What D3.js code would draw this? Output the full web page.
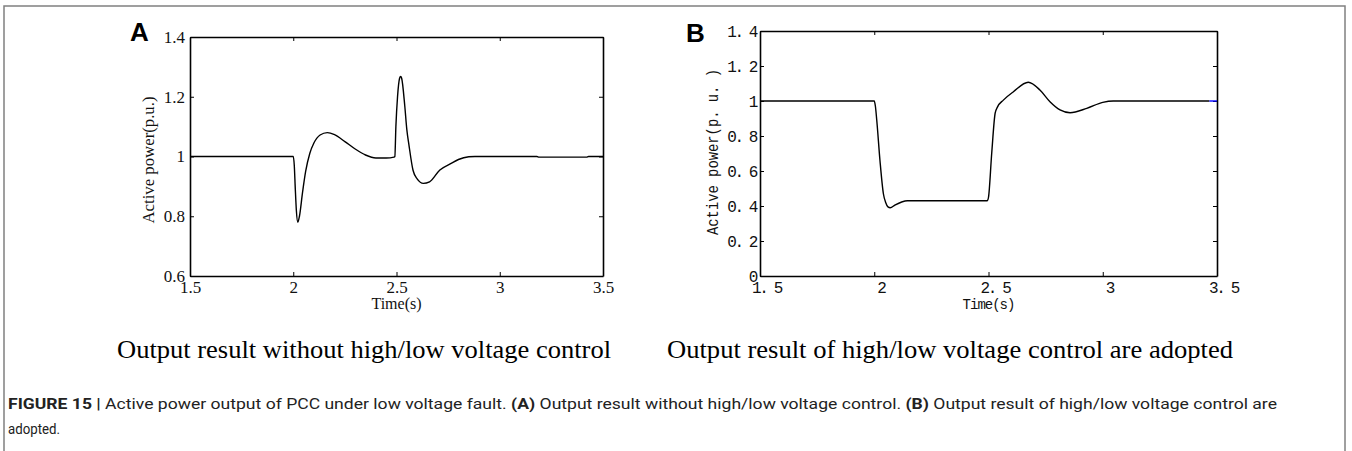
<!DOCTYPE html>
<html>
<head>
	<meta charset="utf-8">
	<title>Figure 15 - Active power output of PCC</title>
	<script src="https://d3js.org/d3.v7.min.js"></script>
	<style>
		body { margin: 0; background: #fff; }
	</style>
</head>
<body>
	<div class="chart"></div>

	<script type="text/javascript">

		// panel A: without high/low voltage control
		const timeA = [1.5, 1.99, 2.0, 2.005, 2.01, 2.015, 2.022, 2.03, 2.045, 2.06, 2.08, 2.10, 2.13, 2.165, 2.20, 2.25, 2.30, 2.35, 2.40, 2.45, 2.488, 2.492, 2.497, 2.505, 2.515, 2.52, 2.525, 2.54, 2.55, 2.56, 2.58, 2.60, 2.63, 2.66, 2.71, 2.76, 2.80, 2.85, 2.88, 3.18, 3.19, 3.42, 3.43, 3.5]
		const powerA = [1.0, 1.0, 1.0, 0.97, 0.89, 0.82, 0.78, 0.80, 0.88, 0.95, 1.01, 1.045, 1.072, 1.08, 1.073, 1.05, 1.025, 1.005, 0.995, 0.995, 0.998, 1.0, 1.10, 1.20, 1.262, 1.268, 1.262, 1.17, 1.09, 1.04, 0.954, 0.925, 0.91, 0.915, 0.955, 0.975, 0.99, 0.999, 1.0, 1.0, 0.998, 0.998, 1.0, 1.0]

		// panel B: with high/low voltage control
		const timeB = [1.5, 1.995, 2.0, 2.005, 2.011, 2.025, 2.04, 2.05, 2.06, 2.07, 2.09, 2.12, 2.145, 2.495, 2.50, 2.514, 2.529, 2.539, 2.565, 2.609, 2.674, 2.725, 2.769, 2.813, 2.857, 2.93, 3.0, 3.046, 3.466]
		const powerB = [1.0, 1.0, 1.0, 0.97, 0.89, 0.66, 0.47, 0.42, 0.395, 0.39, 0.405, 0.423, 0.43, 0.43, 0.45, 0.70, 0.93, 0.965, 1.005, 1.053, 1.107, 1.063, 0.996, 0.949, 0.933, 0.958, 0.992, 1.0, 1.0]
		// second (blue) trace, only visible at the very end
		const timeRef = [3.466, 3.5]
		const powerRef = [1.0, 1.0]

		// ticks
		const xTicks = [1.5, 2, 2.5, 3, 3.5]
		const yTicksA = [0.6, 0.8, 1, 1.2, 1.4]
		const yTicksB = [0, 0.2, 0.4, 0.6, 0.8, 1, 1.2, 1.4]

		// captions
		const captionA = 'Output result without high/low voltage control'
		const captionB = 'Output result of high/low voltage control are adopted'
		const figTitle = 'FIGURE 15 |'
		const figText1 = ' Active power output of PCC under low voltage fault. '
		const figText2 = ' Output result without high/low voltage control. '
		const figText3 = ' Output result of high/low voltage control are'
		const figText4 = 'adopted.'

		var width = 1352
		var height = 451

		var svg = d3
			.select('.chart')
			.append('svg')
			.attr('width', width)
			.attr('height', height)

		// outer frame of the figure box
		svg.append('rect')
			.attr('x', 4)
			.attr('y', 6)
			.attr('width', 1341)
			.attr('height', 460)
			.attr('fill', 'none')
			.attr('stroke', '#808080')
			.attr('stroke-width', 1.5)

		/**
		 * one panel, MATLAB-like box with inward ticks
		 */
		function drawPanel(opt) {
			const x = d3.scaleLinear().domain([1.5, 3.5]).range([opt.left, opt.right])
			const y = d3.scaleLinear().domain(opt.yDomain).range([opt.bottom, opt.top])
			const g = svg.append('g')

			const xAxis = g.append('g')
				.attr('transform', `translate(0, ${opt.bottom})`)
				.call(d3.axisBottom(x).tickValues(xTicks).tickSize(-4).tickSizeOuter(0).tickPadding(opt.xPad).tickFormat(opt.fmt))
			xAxis.selectAll('text').attr('dx', opt.xShift)
			g.append('g')
				.attr('transform', `translate(${opt.left}, 0)`)
				.call(d3.axisLeft(y).tickValues(opt.yTicks).tickSize(-4).tickSizeOuter(0).tickPadding(opt.yPad).tickFormat(opt.fmt))
			g.append('g')
				.attr('transform', `translate(0, ${opt.top})`)
				.call(d3.axisTop(x).tickValues(xTicks).tickSize(-4).tickSizeOuter(0).tickFormat(''))
			g.append('g')
				.attr('transform', `translate(${opt.right}, 0)`)
				.call(d3.axisRight(y).tickValues(opt.yTicks).tickSize(-4).tickSizeOuter(0).tickFormat(''))

			g.selectAll('.domain').attr('stroke', '#000').attr('stroke-width', 1.6)
			g.selectAll('.tick line').attr('stroke', '#000').attr('stroke-width', 1)
			g.selectAll('.tick text')
				.attr('fill', '#111')
				.style('font-family', opt.font)
				.style('font-size', opt.fontSize + 'px')
				.style('letter-spacing', opt.spacing)

			// series
			const line = d3.line().x((d) => x(d[0])).y((d) => y(d[1])).curve(d3.curveMonotoneX)
			opt.series.forEach((s) => {
				g.append('path')
					.attr('d', line(d3.zip(s.t, s.v)))
					.attr('fill', 'none')
					.attr('stroke', s.color)
					.attr('stroke-width', 1.4)
					.attr('stroke-linejoin', 'round')
			})

			// axis titles
			g.append('text')
				.attr('x', (opt.left + opt.right) / 2)
				.attr('y', opt.xLabelY)
				.attr('text-anchor', 'middle')
				.style('font-family', opt.font)
				.style('font-size', opt.labelSize + 'px')
				.style('letter-spacing', opt.labelSpacing)
				.attr('fill', '#111')
				.text('Time(s)')

			g.append('text')
				.attr('transform', `translate(${opt.yLabelX}, ${opt.yLabelY}) rotate(-90)`)
				.attr('text-anchor', 'middle')
				.attr('textLength', opt.yLabelLen)
				.attr('lengthAdjust', 'spacingAndGlyphs')
				.style('font-family', opt.font)
				.style('font-size', opt.fontSize + 'px')
				.attr('fill', '#111')
				.text(opt.yLabel)

			// panel letter
			svg.append('text')
				.attr('x', opt.letterX)
				.attr('y', opt.letterY)
				.style('font-family', 'Liberation Sans, Arial, sans-serif')
				.style('font-weight', 'bold')
				.style('font-size', '26px')
				.text(opt.letter)
		}

		drawPanel({
			left: 190, right: 603, top: 37, bottom: 276,
			yDomain: [0.6, 1.4], yTicks: yTicksA,
			fmt: d3.format('~g'),
			font: 'Liberation Serif, Times New Roman, serif', fontSize: 17, labelSize: 16,
			spacing: '0px', labelSpacing: '0px',
			xPad: 5, yPad: 5, xShift: 0,
			xLabelY: 309,
			yLabel: 'Active power(p.u.)', yLabelX: 154, yLabelY: 160, yLabelLen: 127,
			letter: 'A', letterX: 130, letterY: 41,
			series: [{ t: timeA, v: powerA, color: '#000' }]
		})

		drawPanel({
			left: 760, right: 1217, top: 31, bottom: 276,
			yDomain: [0, 1.4], yTicks: yTicksB,
			fmt: (d) => d3.format('~g')(d).replace('.', '. '),
			font: 'Liberation Mono, Courier New, monospace', fontSize: 16, labelSize: 14,
			spacing: '-2.4px', labelSpacing: '-1px',
			xPad: 6, yPad: 4, xShift: 6,
			xLabelY: 309,
			yLabel: 'Active power(p. u. )', yLabelX: 718, yLabelY: 152, yLabelLen: 166,
			letter: 'B', letterX: 686, letterY: 42,
			series: [
				{ t: timeRef, v: powerRef, color: '#0000ff' },
				{ t: timeB, v: powerB, color: '#000' }
			]
		})

		// sub captions
		svg.append('text')
			.attr('x', 117)
			.attr('y', 358)
			.attr('textLength', 494)
			.attr('lengthAdjust', 'spacingAndGlyphs')
			.style('font-family', 'Liberation Serif, Times New Roman, serif')
			.style('font-size', '25px')
			.text(captionA)

		svg.append('text')
			.attr('x', 667)
			.attr('y', 358)
			.attr('textLength', 566)
			.attr('lengthAdjust', 'spacingAndGlyphs')
			.style('font-family', 'Liberation Serif, Times New Roman, serif')
			.style('font-size', '25px')
			.text(captionB)

		// figure caption
		const cap = svg.append('text')
			.attr('x', 8)
			.attr('y', 409)
			.attr('textLength', 1269)
			.attr('lengthAdjust', 'spacingAndGlyphs')
			.style('font-family', 'Roboto, Liberation Sans, sans-serif')
			.style('font-size', '15px')
			.attr('fill', '#222')
		cap.append('tspan').style('font-weight', 'bold').text(figTitle)
		cap.append('tspan').text(figText1)
		cap.append('tspan').style('font-weight', 'bold').text('(A)')
		cap.append('tspan').text(figText2)
		cap.append('tspan').style('font-weight', 'bold').text('(B)')
		cap.append('tspan').text(figText3)

		svg.append('text')
			.attr('x', 8)
			.attr('y', 434)
			.attr('textLength', 52)
			.attr('lengthAdjust', 'spacingAndGlyphs')
			.style('font-family', 'Roboto, Liberation Sans, sans-serif')
			.style('font-size', '15px')
			.attr('fill', '#222')
			.text(figText4)

	</script>
</body>
</html>
